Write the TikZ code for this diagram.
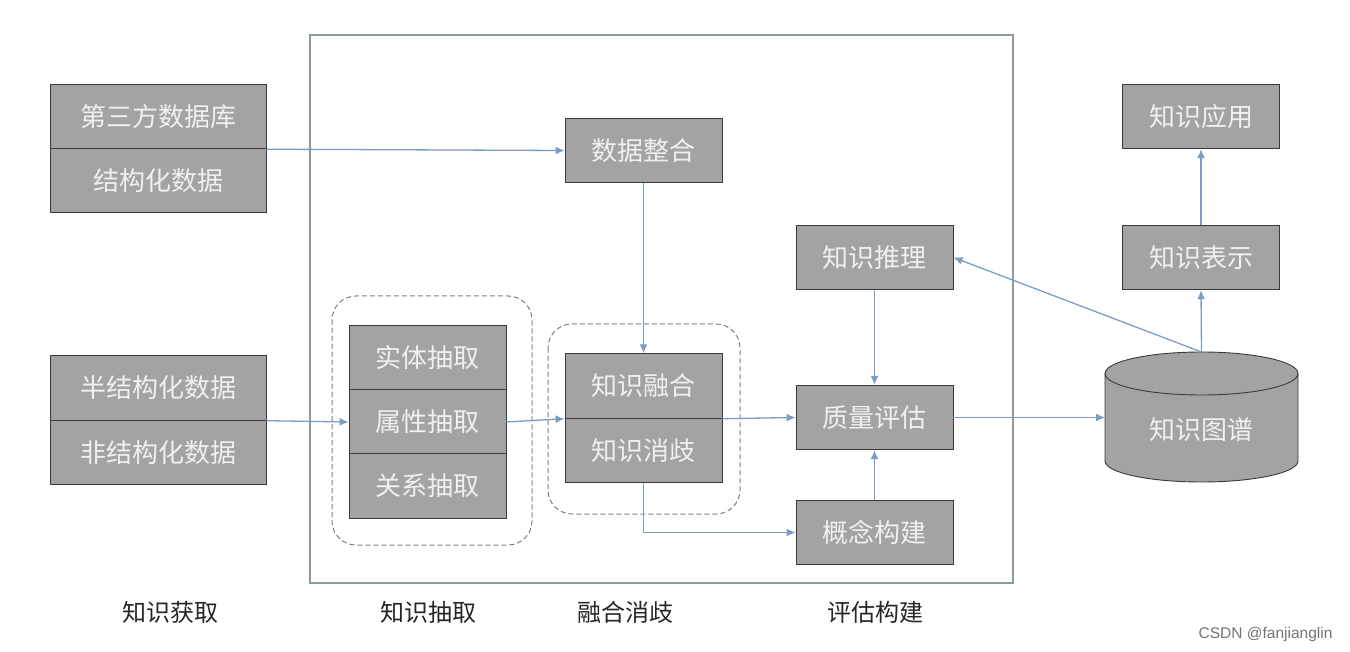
\documentclass[tikz,border=0pt]{standalone}
\usepackage{fontspec}
\newfontfamily\cjk{Noto Sans CJK SC}
\usetikzlibrary{arrows.meta}
\definecolor{boxgray}{HTML}{A3A3A3}
\definecolor{boxedge}{HTML}{3A3A3A}
\definecolor{arrowblue}{HTML}{7B9CC4}
\definecolor{dashgray}{HTML}{7F7F7F}
\definecolor{framegray}{HTML}{8C9A9A}
\tikzset{
  gbox/.style={draw=boxedge, line width=0.9pt, fill=boxgray, text=white!94!black,
    minimum width=157pt, minimum height=64.5pt, inner sep=0pt,
    font=\cjk\fontsize{26}{26}\selectfont},
  conn/.style={draw=arrowblue, line width=1.3pt, -{Latex[length=9pt,width=8pt]}},
  dgroup/.style={draw=dashgray, line width=1pt, dash pattern=on 5pt off 3pt, rounded corners=24pt},
  steplabel/.style={font=\cjk\fontsize{24}{24}\selectfont, text=black!85}
}
\begin{document}
\begin{tikzpicture}[x=1pt,y=-1pt]
\useasboundingbox (0,0) rectangle (1350,652);
% outer frame
\draw[framegray, line width=1.1pt] (310,35) rectangle (1013,583);
% dashed groups
\draw[dgroup] (332,296) rectangle (532,545);
\draw[dgroup] (548,324) rectangle (740,514);
% left sources
\node[gbox, minimum width=216pt] (s2) at (158,180.5) {结构化数据};
\node[gbox, minimum width=216pt] (s1) at (158,116.5) {第三方数据库};
\node[gbox, minimum width=216pt] (s3) at (158,388) {半结构化数据};
\node[gbox, minimum width=216pt] (s4) at (158,452.5) {非结构化数据};
% extraction
\node[gbox] (e1) at (427.5,357.5) {实体抽取};
\node[gbox] (e2) at (427.5,422) {属性抽取};
\node[gbox] (e3) at (427.5,486) {关系抽取};
% integration / fusion
\node[gbox] (m) at (643.5,150.5) {数据整合};
\node[gbox] (f1) at (643.5,386) {知识融合};
\node[gbox] (f2) at (643.5,450.5) {知识消歧};
% evaluation
\node[gbox] (r) at (874.5,257.5) {知识推理};
\node[gbox] (q) at (874.5,417.5) {质量评估};
\node[gbox] (c) at (874.5,532.5) {概念构建};
% application
\node[gbox] (a) at (1201,116.5) {知识应用};
\node[gbox] (p) at (1201,257.5) {知识表示};
% knowledge graph cylinder
\fill[boxgray] (1105,373.5) -- (1105,461) arc (180:0:96.5 and 21) -- (1298,373.5) arc (360:180:96.5 and 21.5) -- cycle;
\draw[boxedge, line width=0.9pt] (1105,373.5) -- (1105,461) arc (180:0:96.5 and 21) -- (1298,373.5) arc (360:180:96.5 and 21.5) -- cycle;
\draw[boxedge, line width=0.9pt] (1105,373.5) arc (180:0:96.5 and 21.5);
\node[text=white!94!black, font=\cjk\fontsize{26}{26}\selectfont] (kg) at (1201.5,430) {知识图谱};
\coordinate (kgtop) at (1201.5,352);
\coordinate (kgleft) at (1105,417.5);
% connectors
\draw[conn] (s1.south east) -- (m.west);
\draw[conn] (s3.south east) -- (e2.west);
\draw[conn] (e2.east) -- (f1.south west);
\draw[conn] (m.south) -- (f1.north);
\draw[conn] (f1.south east) -- (q.west);
\draw[conn] (f2.south) |- (c.west);
\draw[conn] (r.south) -- (q.north);
\draw[conn] (c.north) -- (q.south);
\draw[conn] (q.east) -- (kgleft);
\draw[conn] (kgtop) -- (p.south);
\draw[conn] (kgtop) -- (r.east);
\draw[conn] (p.north) -- (a.south);
% bottom labels
\node[steplabel] (l1) at (170,612) {知识获取};
\node[steplabel] (l2) at (428,612) {知识抽取};
\node[steplabel] (l3) at (625,612) {融合消歧};
\node[steplabel] (l4) at (875,612) {评估构建};
% watermark
\node[font=\fontspec{Liberation Sans}\fontsize{15.5}{15.5}\selectfont, text=black!55, anchor=east] (wm) at (1336,634) {CSDN @fanjianglin};
\end{tikzpicture}
\end{document}
